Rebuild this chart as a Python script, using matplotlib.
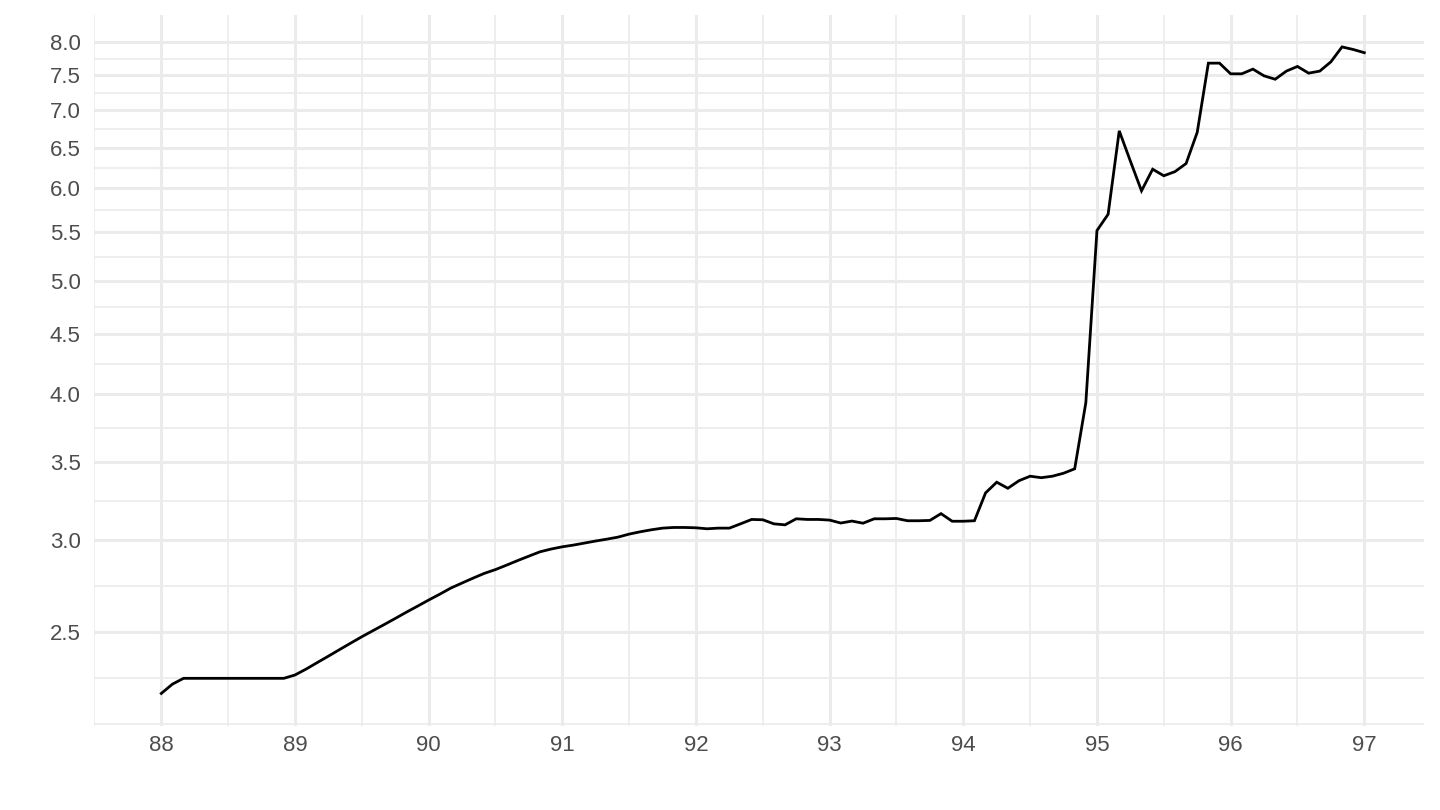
import matplotlib
matplotlib.use('Agg')
import matplotlib.pyplot as plt
import numpy as np

# monthly series, Jan 88 .. Jan 97
start_year = 88
rate = [
    # 88
    2.215, 2.256, 2.282, 2.282, 2.282, 2.282, 2.282, 2.282, 2.282, 2.282, 2.282, 2.282,
    # 89
    2.297, 2.324, 2.354, 2.384, 2.415, 2.446, 2.477, 2.507, 2.537, 2.568, 2.600, 2.631,
    # 90
    2.663, 2.694, 2.727, 2.754, 2.781, 2.807, 2.828, 2.853, 2.879, 2.904, 2.929, 2.945,
    # 91
    2.958, 2.968, 2.980, 2.992, 3.003, 3.015, 3.033, 3.047, 3.059, 3.069, 3.073, 3.073,
    # 92
    3.071, 3.065, 3.069, 3.069, 3.095, 3.122, 3.120, 3.095, 3.089, 3.126, 3.122, 3.122,
    # 93
    3.118, 3.100, 3.112, 3.099, 3.126, 3.126, 3.128, 3.114, 3.114, 3.116, 3.158, 3.111,
    # 94
    3.111, 3.114, 3.290, 3.360, 3.320, 3.370, 3.400, 3.390, 3.400, 3.420, 3.450, 3.930,
    # 95
    5.520, 5.700, 6.720, 6.330, 5.970, 6.230, 6.150, 6.200, 6.300, 6.700, 7.680, 7.680,
    # 96
    7.520, 7.520, 7.590, 7.490, 7.440, 7.560, 7.630, 7.530, 7.560, 7.700, 7.930, 7.890,
    # 97
    7.840,
]

x_ticks = [88, 89, 90, 91, 92, 93, 94, 95, 96, 97]
y_ticks = [2.5, 3.0, 3.5, 4.0, 4.5, 5.0, 5.5, 6.0, 6.5, 7.0, 7.5, 8.0]

rate = np.array(rate)
t = start_year + np.arange(len(rate)) / 12

grid_col = '#EBEBEB'
text_col = '#4D4D4D'
plt.rcParams['font.family'] = ['Liberation Sans', 'DejaVu Sans']

fig = plt.figure(figsize=(14.4, 8.1), dpi=100)
ax = fig.add_axes([0.0656, 0.104, 0.9236, 0.878])

ax.plot(t, rate, color='black', lw=2.0, solid_joinstyle='miter', zorder=3)

ax.set_yscale('log')

# limits with ggplot-style 5% expansion
x0, x1 = t.min(), t.max()
ax.set_xlim(x0 - 0.05 * (x1 - x0), x1 + 0.05 * (x1 - x0))
l0, l1 = np.log(rate.min()), np.log(rate.max())
pad = 0.05 * (l1 - l0)
ax.set_ylim(np.exp(l0 - pad), np.exp(l1 + pad))

ax.set_xticks(x_ticks)
ax.set_xticklabels([str(v) for v in x_ticks])
ax.set_xticks([v + 0.5 for v in x_ticks[:-1]] + [x_ticks[0] - 0.5], minor=True)

ax.set_yticks(y_ticks)
ax.set_yticklabels(['%.1f' % v for v in y_ticks])
step = y_ticks[1] / y_ticks[0]
y_minor = [np.sqrt(a * b) for a, b in zip(y_ticks[:-1], y_ticks[1:])]
y_minor += [y_ticks[0] / np.sqrt(step), y_ticks[0] / step]
ax.set_yticks(y_minor, minor=True)
ax.yaxis.set_minor_formatter(plt.NullFormatter())

ax.grid(which='major', color=grid_col, lw=2.2)
ax.grid(which='minor', color=grid_col, lw=1.2)
ax.set_axisbelow(True)

for s in ax.spines.values():
    s.set_visible(False)
ax.tick_params(which='both', length=0)
ax.tick_params(axis='x', pad=7, labelsize=16, labelcolor=text_col)
ax.tick_params(axis='y', pad=10, labelsize=16, labelcolor=text_col)

fig.savefig('out.png', dpi=100)
